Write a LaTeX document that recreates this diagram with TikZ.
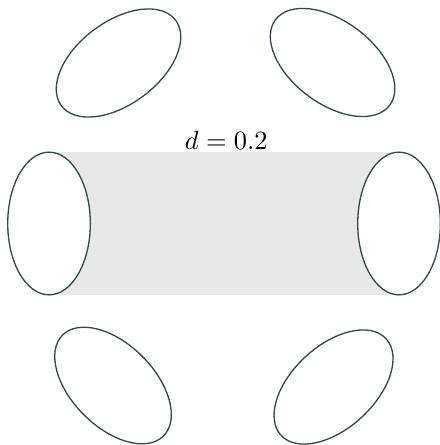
\documentclass[tikz,border=0pt]{standalone}
\usepackage{tikz}
\usetikzlibrary{shapes, backgrounds, positioning}
\definecolor{vien}{RGB}{55,72,74}
\definecolor{xam}{RGB}{232,232,232}

\begin{document}
\begin{tikzpicture}[elip/.style={ellipse, draw=vien, line width=0.5pt, fill=white, minimum width=1.1cm, minimum height=1.9cm, inner sep=0pt, outer sep=0pt}]
    % Khung hình
    \useasboundingbox (-2.983,-2.949) rectangle (2.863,2.976);

    % Hai elip đứng ở hai đầu ống
    \node[elip] (trai) at (-2.33,0) {};
    \node[elip] (phai) at (2.33,0) {};

    % Bốn elip nghiêng ở trên và dưới
    \node[elip, rotate=-53.2] (trentrai) at (-1.405,2.137) {};
    \node[elip, rotate=53.2] (trenphai) at (1.445,2.144) {};
    \node[elip, rotate=45] (duoitrai) at (-1.478,-2.157) {};
    \node[elip, rotate=-47.4] (duoiphai) at (1.458,-2.177) {};

    % Phần ống màu xám nằm phía sau, nối tâm hai elip
    \begin{pgfonlayer}{background}
        \fill[xam] (trai.north) rectangle (phai.south);
    \end{pgfonlayer}

    % Nhãn khoảng cách ngay trên ống
    \node[anchor=base] (nhan) at (0.03,0.98) {$d = 0.2$};
\end{tikzpicture}
\end{document}
